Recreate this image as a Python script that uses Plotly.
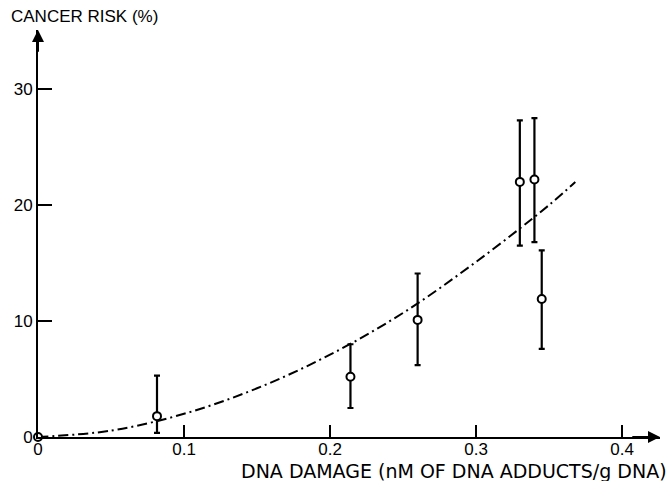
import plotly.graph_objects as go

# Measured points (DNA damage, cancer risk %) with error bars
dose = [0.0, 0.0815, 0.214, 0.26, 0.330, 0.340, 0.345]
risk = [0.0, 1.8, 5.2, 10.1, 22.0, 22.2, 11.9]
err_hi = [0.0, 3.5, 2.8, 4.0, 5.3, 5.3, 4.2]
err_lo = [0.0, 1.45, 2.7, 3.9, 5.5, 5.4, 4.3]

# Fitted dash-dot curve
curve_x = [0.0, 0.05, 0.10, 0.15, 0.20, 0.25, 0.30, 0.35, 0.368]
curve_y = [0.0, 0.55, 2.0, 4.2, 7.1, 10.7, 15.1, 20.0, 22.0]

x_ticks = [0, 0.1, 0.2, 0.3, 0.4]
x_labels = ["0", "0.1", "0.2", "0.3", "0.4"]
y_ticks = [0, 10, 20, 30]
y_labels = ["0", "10", "20", "30"]

X_MAX = 0.426
Y_MAX = 35.1
FONT = "Liberation Sans, Arial, sans-serif"

fig = go.Figure()
fig.add_trace(go.Scatter(
    x=curve_x, y=curve_y, mode="lines",
    line=dict(color="black", width=2, dash="10px,4px,2px,4px", shape="spline"),
    hoverinfo="skip", cliponaxis=False,
))
fig.add_trace(go.Scatter(
    x=dose, y=risk, mode="markers",
    marker=dict(symbol="circle", size=8, color="white",
                line=dict(color="black", width=2)),
    error_y=dict(type="data", symmetric=False, array=err_hi, arrayminus=err_lo,
                 color="black", thickness=2.2, width=3),
    cliponaxis=False,
))

fig.update_layout(
    width=672, height=481,
    margin=dict(l=38, r=12, t=30, b=44),
    paper_bgcolor="white", plot_bgcolor="white",
    showlegend=False,
    font=dict(family=FONT, size=17, color="black"),
    xaxis=dict(range=[0, X_MAX], showgrid=False, zeroline=False, automargin=False,
               showline=True, linecolor="black", linewidth=2,
               ticks="inside", ticklen=12, tickwidth=2, tickcolor="black",
               tickvals=x_ticks, ticktext=x_labels, ticklabelstandoff=-4,
               tickfont=dict(family=FONT, size=17)),
    yaxis=dict(range=[0, Y_MAX], showgrid=False, zeroline=False, automargin=False,
               showline=True, linecolor="black", linewidth=2,
               ticks="inside", ticklen=14, tickwidth=2, tickcolor="black",
               tickvals=y_ticks, ticktext=y_labels,
               tickfont=dict(family=FONT, size=17)),
    annotations=[
        dict(x=X_MAX, y=0, ax=X_MAX - 0.02, ay=0, xref="x", yref="y",
             axref="x", ayref="y", text="", showarrow=True, arrowhead=2,
             arrowsize=1.2, arrowwidth=2, arrowcolor="black"),
        dict(x=0, y=Y_MAX, ax=0, ay=Y_MAX - 2, xref="x", yref="y",
             axref="x", ayref="y", text="", showarrow=True, arrowhead=2,
             arrowsize=1.2, arrowwidth=2, arrowcolor="black"),
        dict(x=1, y=-0.083, xref="paper", yref="paper", xanchor="right",
             yanchor="middle", showarrow=False, xshift=9,
             text="DNA DAMAGE (nM OF DNA ADDUCTS/g DNA)",
             font=dict(family="DejaVu Sans, sans-serif", size=19)),
        dict(x=-0.046, y=1.0, xref="paper", yref="paper", xanchor="left",
             yanchor="bottom", yshift=2, showarrow=False,
             text="CANCER RISK (%)", font=dict(family=FONT, size=17)),
    ],
)

fig.write_html("out.html", config={"displayModeBar": False},
               post_script="document.body.style.margin='0';document.body.style.overflow='hidden';")
